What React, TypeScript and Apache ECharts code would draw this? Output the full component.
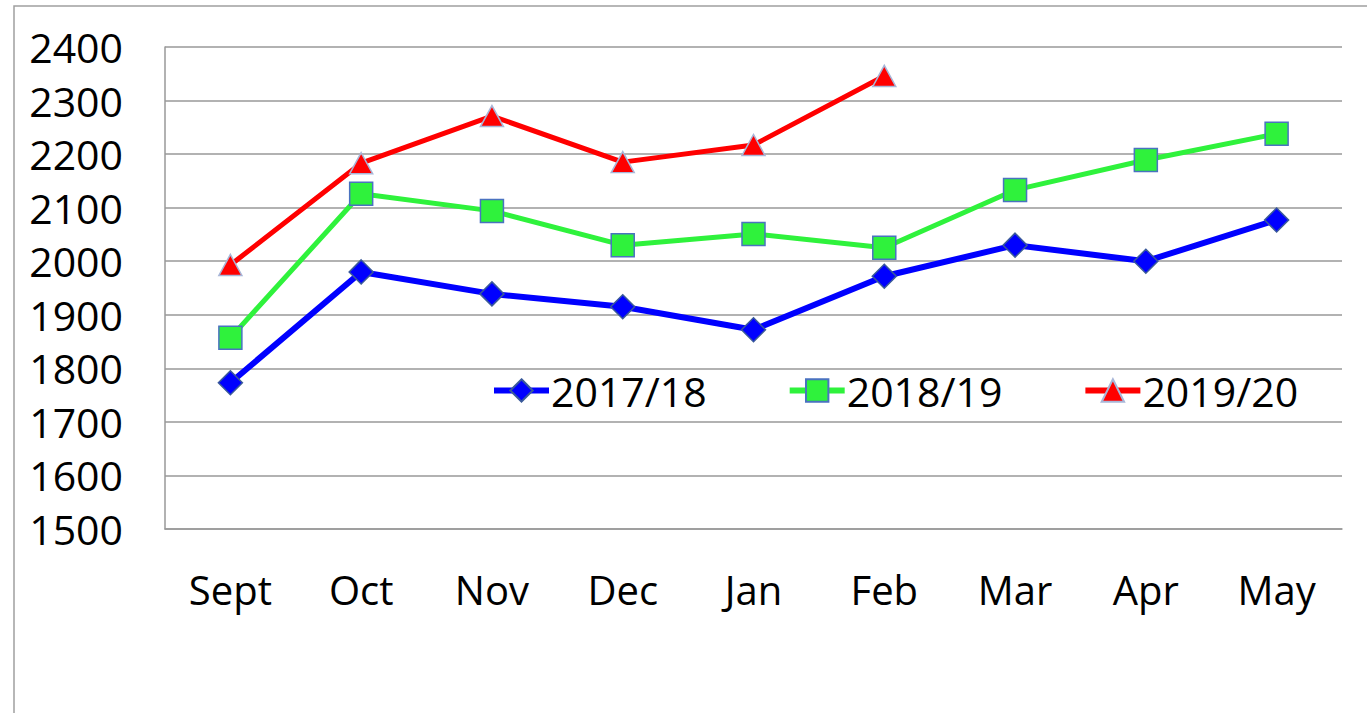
import React, { useEffect, useRef } from "react";
import * as echarts from "echarts";

const categories = ["Sept", "Oct", "Nov", "Dec", "Jan", "Feb", "Mar", "Apr", "May"];
const series1718 = [1773, 1980, 1939, 1915, 1872, 1972, 2030, 2000, 2077];
const series1819 = [1857, 2126, 2094, 2030, 2051, 2025, 2133, 2189, 2238];
const series1920 = [1993, 2183, 2271, 2185, 2217, 2346];
const seriesNames = ["2017/18", "2018/19", "2019/20"];

const FONT = "'Open Sans', 'Liberation Sans', sans-serif";

export default function App() {
  const ref = useRef<HTMLDivElement>(null);
  useEffect(() => {
    if (!ref.current) return;
    const chart = echarts.init(ref.current, null, { renderer: "svg" });
    chart.setOption({
      animation: false,
      backgroundColor: "#ffffff",
      graphic: [
        {
          type: "rect",
          shape: { x: 14, y: 6, width: 1400, height: 800 },
          style: { fill: "none", stroke: "#a0a0a0", lineWidth: 1.5 },
          silent: true,
        },
      ],
      grid: { left: 165, right: 25, top: 47, bottom: 184, containLabel: false },
      legend: {
        left: 486,
        top: 365,
        itemWidth: 55,
        itemHeight: 28,
        itemGap: 80,
        lineStyle: { width: 6 },
        textStyle: { fontFamily: FONT, fontSize: 41, color: "#000", padding: [0, 0, 0, -3] },
        data: seriesNames,
      },
      xAxis: {
        type: "category",
        data: categories,
        boundaryGap: true,
        axisLine: { show: true, lineStyle: { color: "#999", width: 1.5 } },
        axisTick: { show: false },
        axisLabel: { fontFamily: FONT, fontSize: 40, color: "#000", margin: 40 },
      },
      yAxis: {
        type: "value",
        min: 1500,
        max: 2400,
        interval: 100,
        axisLine: { show: true, lineStyle: { color: "#999", width: 1.5 } },
        axisTick: { show: false },
        splitLine: { show: true, lineStyle: { color: "#999", width: 1.5 } },
        axisLabel: {
          fontFamily: FONT,
          fontSize: 41,
          color: "#000",
          margin: 42,
          formatter: (v: number) => String(v),
        },
      },
      series: [
        {
          name: seriesNames[0],
          type: "line",
          data: series1718,
          symbol: "diamond",
          symbolSize: 24,
          lineStyle: { color: "#0000ff", width: 6 },
          itemStyle: { color: "#0000ff", borderColor: "#3a5a9a", borderWidth: 1.5 },
          z: 3,
        },
        {
          name: seriesNames[1],
          type: "line",
          data: series1819,
          symbol: "rect",
          symbolSize: 23,
          lineStyle: { color: "#2ff23c", width: 5 },
          itemStyle: { color: "#2ff23c", borderColor: "#4a72c0", borderWidth: 1.5 },
          z: 4,
        },
        {
          name: seriesNames[2],
          type: "line",
          data: series1920,
          symbol: "triangle",
          symbolSize: [23, 21],
          lineStyle: { color: "#ff0000", width: 5 },
          itemStyle: { color: "#ff0000", borderColor: "#a8b6d8", borderWidth: 1.5 },
          z: 5,
        },
      ],
    });
    return () => chart.dispose();
  }, []);
  return (
    <div
      ref={ref}
      style={{ position: "fixed", left: 0, top: 0, width: 1367, height: 713 }}
    />
  );
}
